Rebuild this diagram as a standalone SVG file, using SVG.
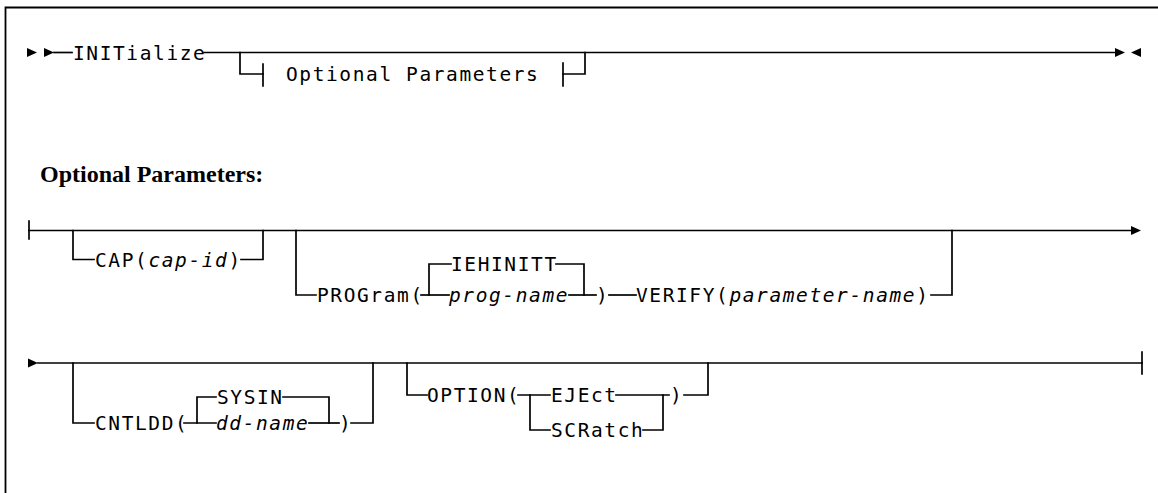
<svg xmlns="http://www.w3.org/2000/svg" width="1158" height="493" viewBox="0 0 1158 493">
<style>
.ln{fill:none;stroke:#000;stroke-width:1.7;stroke-linecap:square}
.fr{fill:none;stroke:#000;stroke-width:1.8}
.t{font-family:"DejaVu Sans Mono","Liberation Mono",monospace;font-size:19.5px;letter-spacing:1.6px;fill:#000}
.i{font-style:italic}
.h{font-family:"Liberation Serif","Times New Roman",serif;font-size:24px;font-weight:bold;fill:#000}
.ah{fill:#000}
</style>
<defs>
<polygon id="ar" points="0,-4.5 10,0 0,4.5"/>
<polygon id="al" points="0,0 10,-4.5 10,4.5"/>
</defs>
<rect width="1158" height="493" fill="#fff"/>
<g id="frame">
<polyline class="fr" points="5.5,493 5.5,7.5 1158,7.5"/>
</g>
<g id="connectors">
<!-- main line -->
<use href="#ar" class="ah" x="27" y="52.5"/>
<use href="#ar" class="ah" x="44" y="52.5"/>
<line class="ln" x1="54" y1="52.5" x2="72" y2="52.5"/>
<line class="ln" x1="204" y1="52.5" x2="1116" y2="52.5"/>
<use href="#ar" class="ah" x="1115" y="52.5"/>
<use href="#al" class="ah" x="1131" y="52.5"/>
<polyline class="ln" points="240,52.5 240,74 263,74"/>
<line class="ln" x1="263" y1="64" x2="263" y2="86"/>
<polyline class="ln" points="585,52.5 585,74 563,74"/>
<line class="ln" x1="563" y1="63" x2="563" y2="86"/>
<!-- row 1 -->
<line class="ln" x1="29" y1="221" x2="29" y2="239"/>
<line class="ln" x1="29" y1="230.5" x2="1131" y2="230.5"/>
<use href="#ar" class="ah" x="1131" y="230.5"/>
<polyline class="ln" points="73,230.5 73,259.5 94,259.5"/>
<polyline class="ln" points="241,259.5 263,259.5 263,230.5"/>
<polyline class="ln" points="296,230.5 296,295 316,295"/>
<line class="ln" x1="421" y1="295" x2="449" y2="295"/>
<polyline class="ln" points="451,264 429,264 429,295"/>
<polyline class="ln" points="556,264 584,264 584,295"/>
<line class="ln" x1="569" y1="295" x2="596" y2="295"/>
<line class="ln" x1="609" y1="295" x2="636" y2="295"/>
<polyline class="ln" points="931,295 952,295 952,230.5"/>
<!-- row 2 -->
<use href="#ar" class="ah" x="28" y="363"/>
<line class="ln" x1="38" y1="363" x2="1142" y2="363"/>
<line class="ln" x1="1142" y1="352" x2="1142" y2="374"/>
<polyline class="ln" points="73,363 73,423 94,423"/>
<line class="ln" x1="184" y1="423" x2="216" y2="423"/>
<polyline class="ln" points="216,397 197,397 197,423"/>
<polyline class="ln" points="283,397 329,397 329,423"/>
<line class="ln" x1="309" y1="423" x2="339" y2="423"/>
<polyline class="ln" points="351,423 373,423 373,363"/>
<polyline class="ln" points="407,363 407,395 427,395"/>
<line class="ln" x1="518" y1="395" x2="550" y2="395"/>
<polyline class="ln" points="530,395 530,430 550,430"/>
<line class="ln" x1="616" y1="395" x2="669" y2="395"/>
<polyline class="ln" points="643,430 663,430 663,395"/>
<polyline class="ln" points="684,395 708,395 708,363"/>
</g>
<g id="n-initialize"><text class="t" x="73" y="59.5">INITialize</text></g>
<g id="n-optref"><text class="t" x="286" y="81">Optional Parameters</text></g>
<g id="n-heading"><text class="h" x="40" y="182">Optional Parameters:</text></g>
<g id="n-cap"><text class="t" x="95" y="266.5">CAP(<tspan class="i">cap-id</tspan>)</text></g>
<g id="n-program"><text class="t" x="317" y="302">PROGram(</text></g>
<g id="n-iehinitt"><text class="t" x="451" y="271">IEHINITT</text></g>
<g id="n-progname"><text class="t i" x="449" y="302">prog-name</text></g>
<g id="n-program-close"><text class="t" x="596" y="302">)</text></g>
<g id="n-verify"><text class="t" x="636" y="302">VERIFY(<tspan class="i">parameter-name</tspan>)</text></g>
<g id="n-cntldd"><text class="t" x="95" y="430">CNTLDD(</text></g>
<g id="n-sysin"><text class="t" x="217" y="404">SYSIN</text></g>
<g id="n-ddname"><text class="t i" x="216" y="430">dd-name</text></g>
<g id="n-cntldd-close"><text class="t" x="339" y="430">)</text></g>
<g id="n-option"><text class="t" x="427" y="402">OPTION(</text></g>
<g id="n-eject"><text class="t" x="551" y="402">EJEct</text></g>
<g id="n-option-close"><text class="t" x="670" y="402">)</text></g>
<g id="n-scratch"><text class="t" x="551" y="437">SCRatch</text></g>
</svg>
